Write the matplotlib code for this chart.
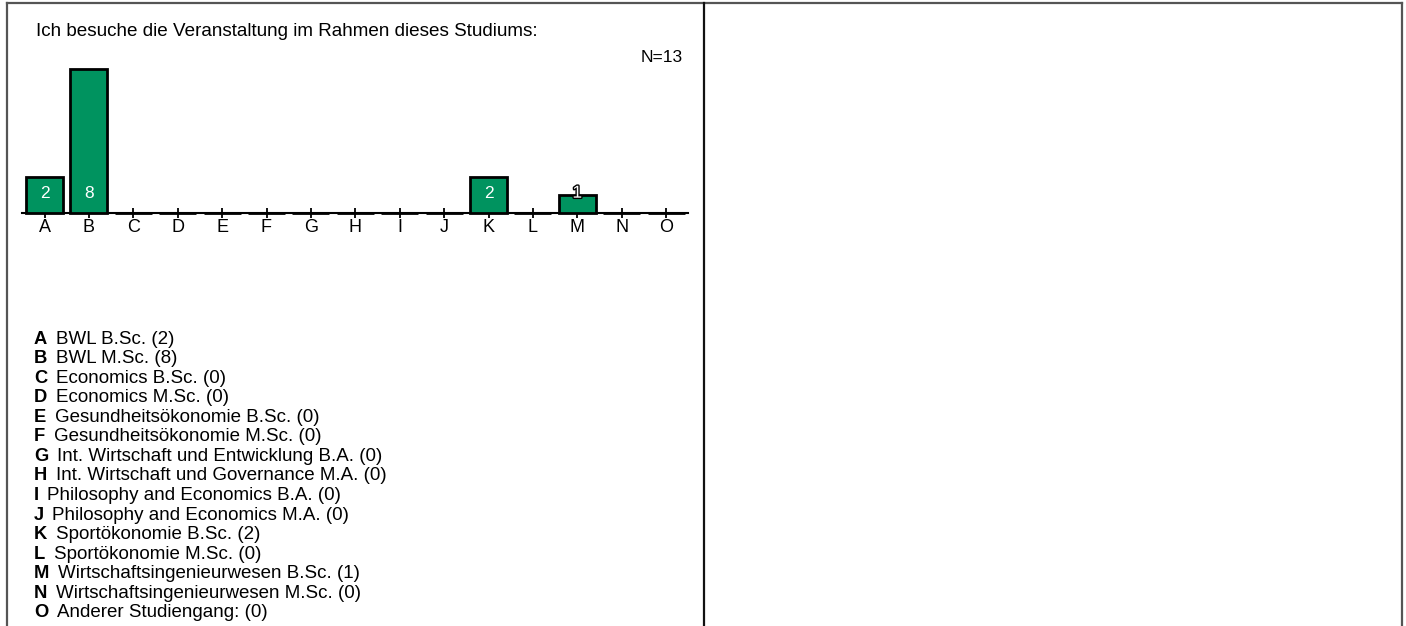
import matplotlib.pyplot as plt
import matplotlib.patheffects as pe
from matplotlib.lines import Line2D

plt.rcParams['font.family'] = ['Liberation Sans', 'DejaVu Sans']

letters = ['A', 'B', 'C', 'D', 'E', 'F', 'G', 'H', 'I', 'J', 'K', 'L', 'M', 'N', 'O']
counts = [2, 8, 0, 0, 0, 0, 0, 0, 0, 0, 2, 0, 1, 0, 0]
names = ['BWL B.Sc.', 'BWL M.Sc.', 'Economics B.Sc.', 'Economics M.Sc.',
         'Gesundheitsökonomie B.Sc.', 'Gesundheitsökonomie M.Sc.',
         'Int. Wirtschaft und Entwicklung B.A.', 'Int. Wirtschaft und Governance M.A.',
         'Philosophy and Economics B.A.', 'Philosophy and Economics M.A.',
         'Sportökonomie B.Sc.', 'Sportökonomie M.Sc.',
         'Wirtschaftsingenieurwesen B.Sc.', 'Wirtschaftsingenieurwesen M.Sc.',
         'Anderer Studiengang:']
title = 'Ich besuche die Veranstaltung im Rahmen dieses Studiums:'
total = sum(counts)

W, H = 1406, 626
green = '#00935f'

fig = plt.figure(figsize=(W / 100, H / 100), dpi=100)

def fx(x):
    return x / W

def fy(y):
    return 1 - y / H

# frame lines
for xs, ys, c in [([7, 1402], [3, 3], '#555555'),
                  ([7, 7], [3, 626], '#555555'),
                  ([1402, 1402], [3, 626], '#555555'),
                  ([704, 704], [3, 626], '#111111')]:
    fig.add_artist(Line2D([fx(v) for v in xs], [fy(v) for v in ys], color=c, lw=1.6))

fig.text(fx(36), fy(31), title, fontsize=13.6, va='center', ha='left')
fig.text(fx(683), fy(58), 'N=%d' % total, fontsize=12.5, va='center', ha='right')

# bar axes
ax = fig.add_axes([fx(22.3), fy(213), 666 / W, 144 / H])
x = list(range(len(letters)))
ax.bar(x, counts, width=0.83, color=green, edgecolor='black', linewidth=2, clip_on=False, zorder=3)
ax.axhline(0, color='black', lw=1.5, zorder=2, clip_on=False)
ax.set_xlim(-0.5, 14.5)
ax.set_ylim(0, 8)
for s in ax.spines.values():
    s.set_visible(False)
ax.set_yticks([])
ax.set_xticks(x)
ax.set_xticklabels(letters, fontsize=13)
ax.tick_params(axis='x', direction='inout', length=7.5, width=1.3, pad=0.5)

for xi, v in zip(x, counts):
    if v > 0:
        t = ax.text(xi, 1.1, str(v), color='white', fontsize=12.5, ha='center', va='center', zorder=5)
        if v < 1.5:
            t.set_path_effects([pe.withStroke(linewidth=2, foreground='black')])

# legend list
y0 = 339
step = 19.57
for i, (l, n, c) in enumerate(zip(letters, names, counts)):
    lt = fig.text(fx(34), fy(y0 + i * step), l, fontsize=13.2, fontweight='bold', va='center', ha='left')
    ax.annotate('%s (%d)' % (n, c), xy=(1, 0.5), xycoords=lt, xytext=(6, 0),
                textcoords='offset points', fontsize=13.5, va='center', ha='left',
                annotation_clip=False)

fig.savefig('out.png', dpi=100)
